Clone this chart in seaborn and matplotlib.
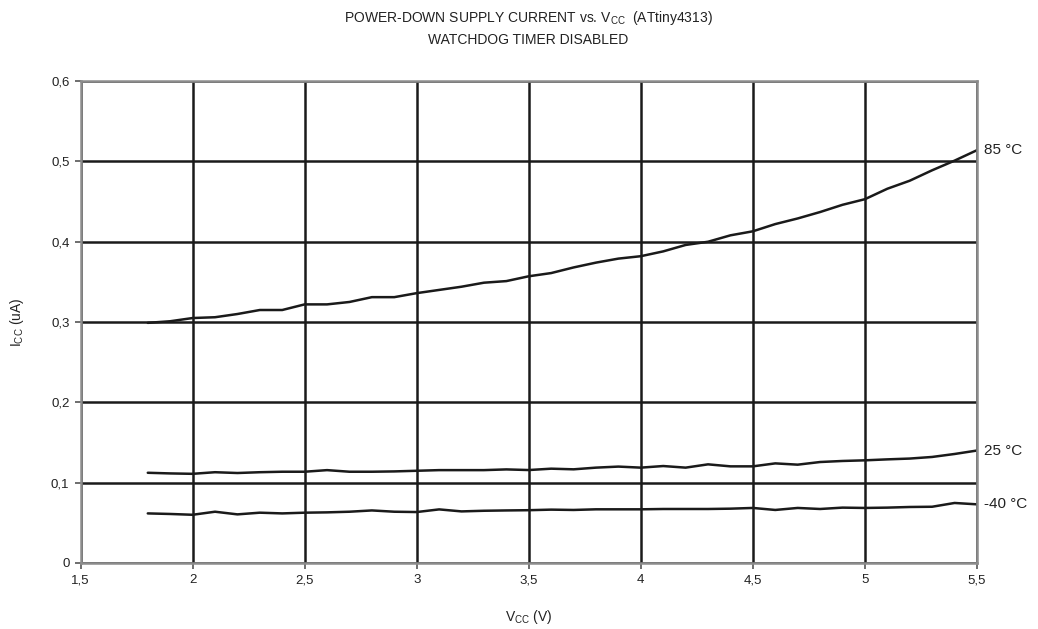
import matplotlib
matplotlib.use("Agg")
import matplotlib.pyplot as plt
import seaborn as sns
import pandas as pd

# Supply voltage steps (V)
vcc = [1.8, 1.9, 2.0, 2.1, 2.2, 2.3, 2.4, 2.5, 2.6, 2.7, 2.8, 2.9, 3.0,
       3.1, 3.2, 3.3, 3.4, 3.5, 3.6, 3.7, 3.8, 3.9, 4.0, 4.1, 4.2, 4.3,
       4.4, 4.5, 4.6, 4.7, 4.8, 4.9, 5.0, 5.1, 5.2, 5.3, 5.4, 5.5]

# Power-down current (uA) per temperature
icc_85 = [0.299, 0.301, 0.305, 0.306, 0.310, 0.315, 0.315, 0.322, 0.322, 0.325,
          0.331, 0.331, 0.336, 0.340, 0.344, 0.349, 0.351, 0.357, 0.361, 0.368,
          0.374, 0.379, 0.382, 0.388, 0.396, 0.400, 0.408, 0.413, 0.422, 0.429,
          0.437, 0.446, 0.453, 0.466, 0.476, 0.489, 0.501, 0.514]
icc_25 = [0.1123, 0.1115, 0.1110, 0.1130, 0.1120, 0.1130, 0.1136, 0.1136, 0.1156, 0.1136,
          0.1136, 0.1140, 0.1148, 0.1156, 0.1156, 0.1156, 0.1165, 0.1157, 0.1174, 0.1166,
          0.1187, 0.1200, 0.1187, 0.1207, 0.1187, 0.1228, 0.1203, 0.1203, 0.1240, 0.1224,
          0.1257, 0.1270, 0.1278, 0.1290, 0.1300, 0.1320, 0.1357, 0.1400]
icc_m40 = [0.0617, 0.0610, 0.0600, 0.0638, 0.0605, 0.0626, 0.0617, 0.0626, 0.0630, 0.0638,
           0.0654, 0.0638, 0.0634, 0.0667, 0.0642, 0.0650, 0.0654, 0.0657, 0.0664, 0.0660,
           0.0668, 0.0668, 0.0668, 0.0672, 0.0672, 0.0672, 0.0676, 0.0685, 0.0660, 0.0685,
           0.0672, 0.0689, 0.0685, 0.0689, 0.0697, 0.0700, 0.0747, 0.0730]

series_labels = ["85 °C", "25 °C", "-40 °C"]

x_ticks = [1.5, 2, 2.5, 3, 3.5, 4, 4.5, 5, 5.5]
x_tick_labels = ["1,5", "2", "2,5", "3", "3,5", "4", "4,5", "5", "5,5"]
y_ticks = [0, 0.1, 0.2, 0.3, 0.4, 0.5, 0.6]
y_tick_labels = ["0", "0,1", "0,2", "0,3", "0,4", "0,5", "0,6"]

sns.set_style("white")
plt.rcParams['font.family'] = ['Liberation Sans', 'DejaVu Sans']

df = pd.DataFrame({
    "vcc": vcc * 3,
    "icc": icc_85 + icc_25 + icc_m40,
    "temp": [series_labels[0]] * len(vcc) + [series_labels[1]] * len(vcc)
            + [series_labels[2]] * len(vcc),
})

fig = plt.figure(figsize=(10.38, 6.29), dpi=100)
ax = fig.add_axes([0.0776, 0.105, 0.8636, 0.766])

sns.lineplot(data=df, x="vcc", y="icc", units="temp", estimator=None,
             color="#1a1a1a", linewidth=1.8, ax=ax, legend=False)

ax.set_xlim(1.5, 5.5)
ax.set_ylim(0, 0.6)
ax.set_xticks(x_ticks)
ax.set_xticklabels(x_tick_labels, fontsize=9.5, color="#222222")
ax.set_yticks(y_ticks)
ax.set_yticklabels(y_tick_labels, fontsize=9.5, color="#222222")
ax.tick_params(axis="both", direction="out", length=4, width=1.2,
               color="#555555", pad=4, bottom=True, left=True)
ax.tick_params(axis="x", pad=4)

ax.set_axisbelow(True)
ax.grid(True, color="#1a1a1a", linewidth=1.8)
for s in ax.spines.values():
    s.set_visible(True)
    s.set_color("#8c8c8c")
    s.set_linewidth(1.8)

# curve labels at the right edge
last_vals = [icc_85[-1], icc_25[-1], icc_m40[-1]]
for lab, val in zip(series_labels, last_vals):
    ax.annotate(lab, xy=(vcc[-1], val), xytext=(5, 0), textcoords="offset points",
                ha="left", va="center", fontsize=11, color="#222222",
                annotation_clip=False)

ax.set_xlabel(r"V$_{\mathregular{CC}}$ (V)", fontsize=10, color="#222222", labelpad=16)
ax.set_ylabel(r"I$_{\mathregular{CC}}$ (uA)", fontsize=10, color="#222222", labelpad=18)

fig.text(0.509, 0.972, r"POWER-DOWN SUPPLY CURRENT vs. V$_{\mathregular{CC}}$  (ATtiny4313)",
         ha="center", va="center", fontsize=10, color="#222222")
fig.text(0.509, 0.937, "WATCHDOG TIMER DISABLED",
         ha="center", va="center", fontsize=10, color="#222222")

fig.savefig("out.png", dpi=100)
plt.close(fig)
